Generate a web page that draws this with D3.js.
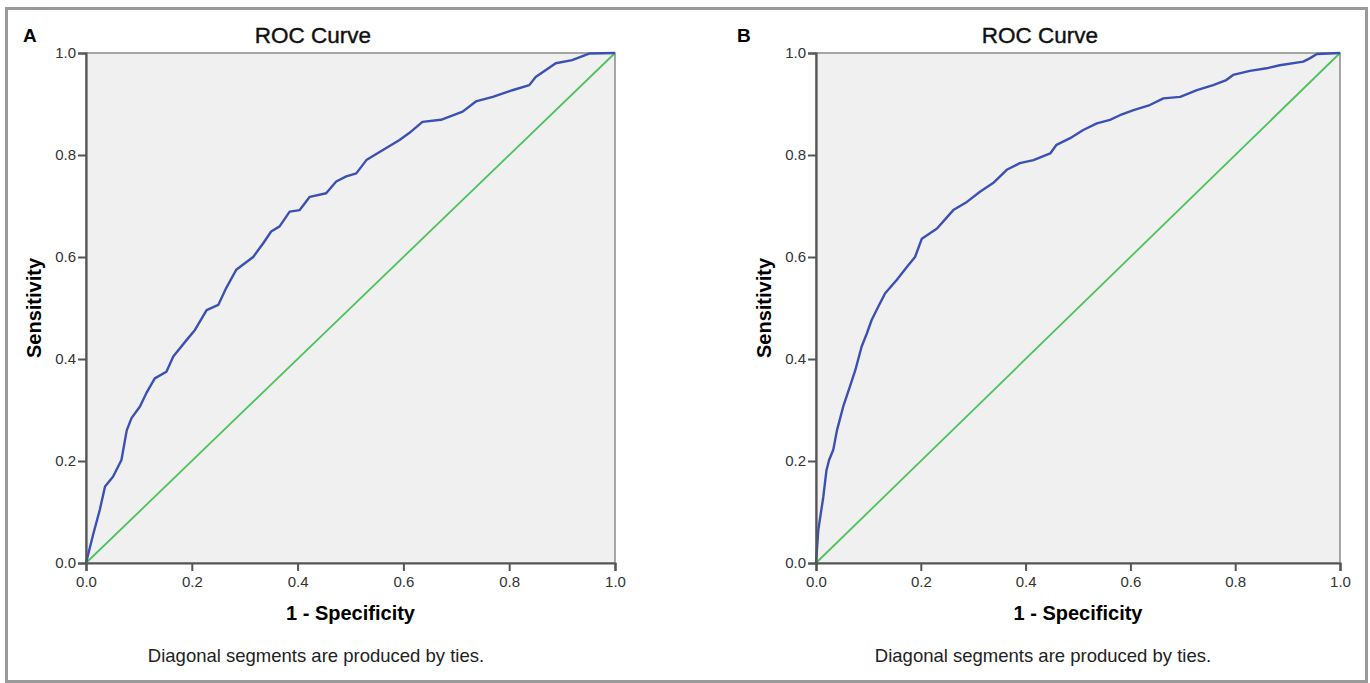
<!DOCTYPE html>
<html>
<head>
<meta charset="utf-8">
<script src="https://cdn.jsdelivr.net/npm/d3@7"></script>
<style>
  body { margin: 0; background: #fff; }
  svg { display: block; font-family: "Liberation Sans", Arial, sans-serif; }
</style>
</head>
<body>
<svg id="chart" width="1370" height="683"></svg>
<script>
// ROC curve A (1 - specificity, sensitivity)
const rocA_fpr = [0, 0.014, 0.026, 0.036, 0.051, 0.067, 0.077, 0.086, 0.102, 0.114, 0.13, 0.152, 0.165, 0.19, 0.206, 0.228, 0.25, 0.265, 0.284, 0.316, 0.335, 0.35, 0.366, 0.385, 0.404, 0.423, 0.454, 0.473, 0.492, 0.511, 0.53, 0.555, 0.592, 0.611, 0.636, 0.671, 0.712, 0.737, 0.769, 0.806, 0.838, 0.85, 0.888, 0.919, 0.951, 1];
const rocA_tpr = [0, 0.058, 0.104, 0.15, 0.169, 0.202, 0.26, 0.284, 0.307, 0.333, 0.362, 0.375, 0.405, 0.437, 0.457, 0.496, 0.506, 0.539, 0.575, 0.6, 0.627, 0.65, 0.66, 0.689, 0.692, 0.718, 0.725, 0.748, 0.758, 0.764, 0.79, 0.806, 0.829, 0.843, 0.865, 0.869, 0.885, 0.905, 0.914, 0.927, 0.937, 0.953, 0.98, 0.986, 0.999, 1];

// ROC curve B
const rocB_fpr = [0, 0.0044, 0.014, 0.02, 0.025, 0.033, 0.04, 0.052, 0.065, 0.075, 0.087, 0.097, 0.106, 0.119, 0.132, 0.154, 0.173, 0.189, 0.202, 0.231, 0.262, 0.288, 0.313, 0.338, 0.364, 0.389, 0.415, 0.447, 0.459, 0.485, 0.51, 0.536, 0.561, 0.58, 0.606, 0.637, 0.663, 0.695, 0.727, 0.758, 0.783, 0.796, 0.828, 0.86, 0.885, 0.93, 0.943, 0.956, 1];
const rocB_tpr = [0, 0.065, 0.13, 0.182, 0.202, 0.222, 0.26, 0.307, 0.347, 0.378, 0.424, 0.45, 0.476, 0.503, 0.529, 0.555, 0.58, 0.6, 0.636, 0.656, 0.692, 0.708, 0.728, 0.745, 0.771, 0.784, 0.79, 0.803, 0.82, 0.833, 0.849, 0.862, 0.869, 0.878, 0.888, 0.898, 0.911, 0.914, 0.927, 0.937, 0.947, 0.957, 0.965, 0.97, 0.976, 0.983, 0.99, 0.998, 1];

// reference line
const refLine = [0, 1];

const ticks = [0, 0.2, 0.4, 0.6, 0.8, 1.0];

const svg = d3.select('#chart');

// outer frame
svg.append('rect')
    .attr('x', 6.5).attr('y', 8.5)
    .attr('width', 1360).attr('height', 673)
    .attr('fill', 'none')
    .attr('stroke', '#9a9a9a')
    .attr('stroke-width', 3);

function drawPanel(letter, fpr, tpr, box) {
    const x = d3.scaleLinear().domain([0, 1]).range([box.left, box.right]);
    const y = d3.scaleLinear().domain([0, 1]).range([box.bottom, box.top]);
    const g = svg.append('g');

    // plot background + thin frame
    g.append('rect')
        .attr('x', x(0)).attr('y', y(1))
        .attr('width', x(1) - x(0)).attr('height', y(0) - y(1))
        .attr('fill', '#f0f0f0')
        .attr('stroke', '#8a8a8a')
        .attr('stroke-width', 1.5);

    // diagonal
    g.append('line')
        .attr('x1', x(refLine[0])).attr('y1', y(refLine[0]))
        .attr('x2', x(refLine[1])).attr('y2', y(refLine[1]))
        .attr('stroke', '#4cc35a')
        .attr('stroke-width', 1.8);

    // roc curve
    const pts = fpr.map((f, i) => [f, tpr[i]]);
    g.append('path')
        .datum(pts)
        .attr('fill', 'none')
        .attr('stroke', '#3a50b3')
        .attr('stroke-width', 2.4)
        .attr('stroke-linejoin', 'round')
        .attr('d', d3.line().x(d => x(d[0])).y(d => y(d[1])));

    // axes
    const fmt = d3.format('.1f');
    const xAxis = g.append('g')
        .attr('transform', `translate(0,${box.bottom})`)
        .call(d3.axisBottom(x).tickValues(ticks).tickFormat(fmt).tickSize(8).tickPadding(5));
    const yAxis = g.append('g')
        .attr('transform', `translate(${box.left},0)`)
        .call(d3.axisLeft(y).tickValues(ticks).tickFormat(fmt).tickSize(8).tickPadding(2));
    for (const ax of [xAxis, yAxis]) {
        ax.select('.domain').attr('stroke', '#555').attr('stroke-width', 2.2);
        ax.selectAll('.tick line').attr('stroke', '#555').attr('stroke-width', 2);
        ax.selectAll('.tick text')
            .attr('fill', '#333')
            .style('font-size', '15px')
            .style('font-family', '"Liberation Sans", Arial, sans-serif');
    }

    // panel letter
    g.append('text')
        .attr('x', box.letterX).attr('y', 42)
        .attr('font-size', 19).attr('font-weight', 'bold')
        .text(letter);

    // title
    g.append('text')
        .attr('x', box.titleX).attr('y', 43)
        .attr('text-anchor', 'middle')
        .attr('font-size', 22.5)
        .attr('fill', '#111')
        .attr('stroke', '#111')
        .attr('stroke-width', 0.4)
        .text('ROC Curve');

    // axis titles
    g.append('text')
        .attr('x', (box.left + box.right) / 2).attr('y', 620)
        .attr('text-anchor', 'middle')
        .attr('font-size', 20).attr('font-weight', 'bold')
        .text('1 - Specificity');
    g.append('text')
        .attr('transform', `translate(${box.left - 45},${(box.top + box.bottom) / 2}) rotate(-90)`)
        .attr('text-anchor', 'middle')
        .attr('font-size', 20).attr('font-weight', 'bold')
        .text('Sensitivity');

    // footnote
    g.append('text')
        .attr('x', box.titleX + 3).attr('y', 662)
        .attr('text-anchor', 'middle')
        .attr('font-size', 18.5)
        .attr('fill', '#222')
        .text('Diagonal segments are produced by ties.');
}

drawPanel('A', rocA_fpr, rocA_tpr, { left: 86, right: 615, top: 53, bottom: 563, letterX: 23, titleX: 313 });
drawPanel('B', rocB_fpr, rocB_tpr, { left: 816, right: 1340, top: 53, bottom: 563, letterX: 737, titleX: 1040 });
</script>
</body>
</html>
